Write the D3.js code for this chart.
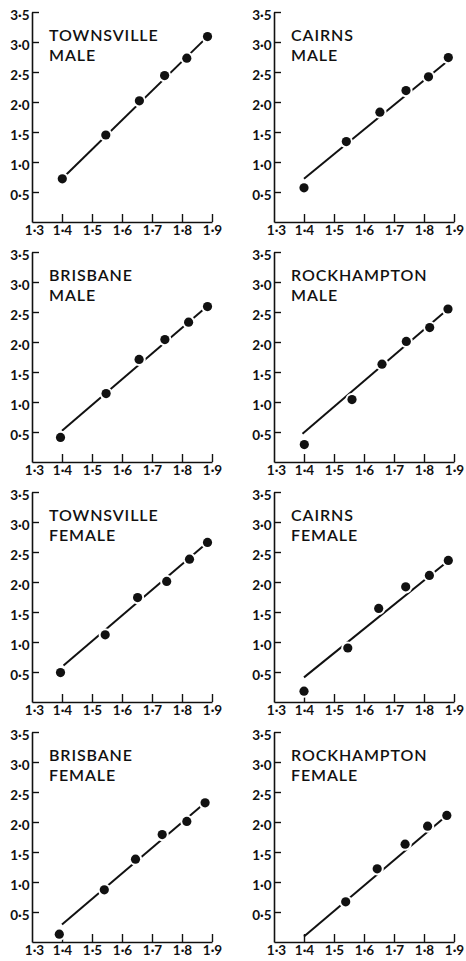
<!DOCTYPE html>
<html>
<head>
<meta charset="utf-8">
<script src="https://cdn.jsdelivr.net/npm/d3@7"></script>
<style>
  html, body { margin: 0; padding: 0; background: #fff; }
  svg { display: block; }
  .tick text { font-family: Lato, "Open Sans", sans-serif; font-weight: 700; font-size: 13.5px; fill: #111; }
  .title { font-family: Lato, "Open Sans", sans-serif; font-weight: 600; font-size: 16px; fill: #111; letter-spacing: 0.9px; }
</style>
</head>
<body>
<svg id="chart" width="466" height="961"></svg>
<script>
// Panel titles, left to right then top to bottom
const cities = ["TOWNSVILLE", "CAIRNS", "BRISBANE", "ROCKHAMPTON",
                "TOWNSVILLE", "CAIRNS", "BRISBANE", "ROCKHAMPTON"];
const sexes = ["MALE", "MALE", "MALE", "MALE",
               "FEMALE", "FEMALE", "FEMALE", "FEMALE"];

// Horizontal positions of the plotted points in each panel
const xValues = [
  [1.401, 1.546, 1.658, 1.742, 1.816, 1.885],
  [1.400, 1.541, 1.653, 1.740, 1.815, 1.881],
  [1.395, 1.547, 1.657, 1.743, 1.822, 1.885],
  [1.401, 1.560, 1.660, 1.741, 1.819, 1.880],
  [1.395, 1.544, 1.652, 1.749, 1.825, 1.885],
  [1.400, 1.546, 1.649, 1.739, 1.818, 1.881],
  [1.391, 1.541, 1.645, 1.734, 1.816, 1.877],
  [1.539, 1.644, 1.737, 1.812, 1.876]
];

// Vertical values of the plotted points in each panel
const yValues = [
  [0.72, 1.45, 2.02, 2.44, 2.73, 3.09],
  [0.57, 1.34, 1.83, 2.19, 2.42, 2.74],
  [0.41, 1.14, 1.71, 2.04, 2.33, 2.59],
  [0.29, 1.04, 1.63, 2.01, 2.24, 2.55],
  [0.49, 1.12, 1.74, 2.01, 2.38, 2.66],
  [0.18, 0.90, 1.56, 1.92, 2.11, 2.36],
  [0.13, 0.87, 1.38, 1.79, 2.01, 2.32],
  [0.67, 1.22, 1.63, 1.93, 2.11]
];

// Fitted straight lines: [x start, y start, x end, y end]
const fitLines = [
  [1.400, 0.72, 1.885, 3.09],
  [1.400, 0.72, 1.885, 2.71],
  [1.400, 0.52, 1.885, 2.60],
  [1.395, 0.47, 1.885, 2.57],
  [1.405, 0.61, 1.885, 2.66],
  [1.400, 0.41, 1.868, 2.30],
  [1.400, 0.29, 1.877, 2.32],
  [1.400, 0.09, 1.876, 2.11]
];

// Axis ticks and their printed labels
const xTicks = [1.3, 1.4, 1.5, 1.6, 1.7, 1.8, 1.9];
const xTickLabels = ["1·3", "1·4", "1·5", "1·6", "1·7", "1·8", "1·9"];
const yTicks = [0.5, 1.0, 1.5, 2.0, 2.5, 3.0, 3.5];
const yTickLabels = ["0·5", "1·0", "1·5", "2·0", "2·5", "3·0", "3·5"];

// Layout
const colAxisX = [32, 274];            // left edge of each column's plot
const rowBaseY = [222, 462, 702, 942]; // bottom edge of each row's plot
const plotW = 180, plotH = 210;

const svg = d3.select("#chart");

cities.forEach((city, i) => {
  const col = i % 2, row = Math.floor(i / 2);
  const ox = colAxisX[col], oy = rowBaseY[row] - plotH;

  const x = d3.scaleLinear().domain([1.3, 1.9]).range([0, plotW]);
  const y = d3.scaleLinear().domain([0, 3.5]).range([plotH, 0]);

  const g = svg.append("g").attr("transform", `translate(${ox},${oy})`);

  // y axis with inward ticks
  const yAxis = d3.axisLeft(y)
    .tickValues(yTicks)
    .tickFormat((d, k) => yTickLabels[k])
    .tickSize(-7)
    .tickSizeOuter(0)
    .tickPadding(2.5);
  const yg = g.append("g").call(yAxis);
  yg.selectAll("text").attr("dy", "0.55em");

  // x axis with upward ticks
  const xAxis = d3.axisBottom(x)
    .tickValues(xTicks)
    .tickFormat((d, k) => xTickLabels[k])
    .tickSize(-8)
    .tickSizeOuter(0)
    .tickPadding(3.4);
  const xg = g.append("g").attr("transform", `translate(0,${plotH})`).call(xAxis);

  [yg, xg].forEach(a => {
    a.select(".domain").attr("stroke", "#111").attr("stroke-width", 1.6);
    a.selectAll(".tick line").attr("stroke", "#111").attr("stroke-width", 1.4);
  });
  xg.selectAll(".tick").filter(d => d === 1.3).select("line").remove();
  xg.selectAll(".tick").filter(d => d === 1.3).select("text").attr("dx", "2");

  // Title
  const t = g.append("text").attr("class", "title")
    .attr("x", 17).attr("y", 29);
  t.append("tspan").attr("x", 17).text(city);
  t.append("tspan").attr("x", 17).attr("dy", 19.5).text(sexes[i]);

  // Fitted line
  const f = fitLines[i];
  g.append("line")
    .attr("x1", x(f[0])).attr("y1", y(f[1]))
    .attr("x2", x(f[2])).attr("y2", y(f[3]))
    .attr("stroke", "#111").attr("stroke-width", 2);

  // Points, each on a white halo that breaks the line
  const pts = xValues[i].map((v, k) => [v, yValues[i][k]]);
  g.selectAll("circle.halo").data(pts).join("circle")
    .attr("class", "halo")
    .attr("cx", d => x(d[0])).attr("cy", d => y(d[1]))
    .attr("r", 6.6)
    .attr("fill", "#fff");
  g.selectAll("circle.pt").data(pts).join("circle")
    .attr("class", "pt")
    .attr("cx", d => x(d[0])).attr("cy", d => y(d[1]))
    .attr("r", 4.6)
    .attr("fill", "#111");
});
</script>
</body>
</html>
